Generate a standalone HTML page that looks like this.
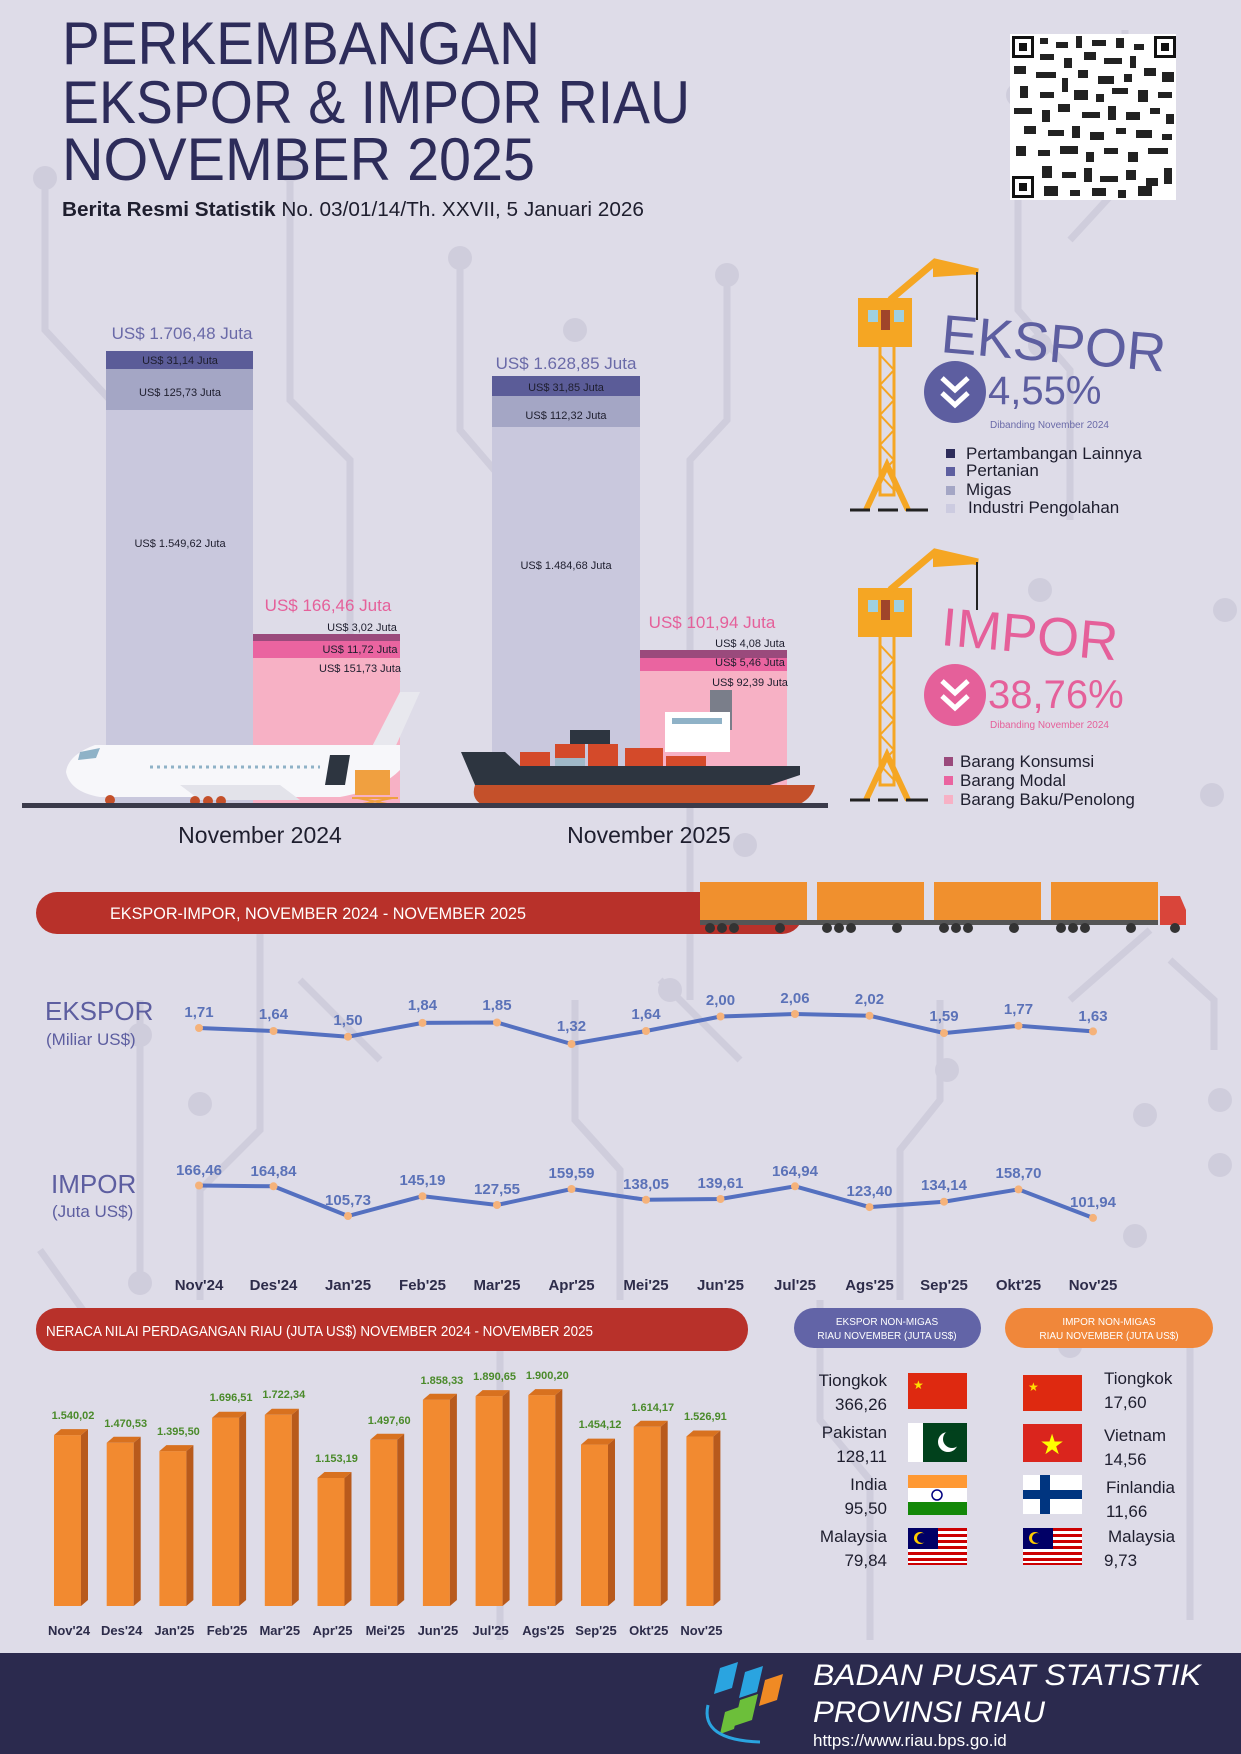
<!DOCTYPE html>
<html><head><meta charset="utf-8"><style>
html,body{margin:0;padding:0;background:#dedce8;}
svg{display:block;font-family:"Liberation Sans",sans-serif;}
</style></head><body>
<svg width="1241" height="1754" viewBox="0 0 1241 1754" xmlns="http://www.w3.org/2000/svg">
<rect width="1241" height="1754" fill="#dedce8"/>
<g stroke="#cfcddc" stroke-width="7" fill="none">
<path d="M45 170 V330 L110 400 V560"/><path d="M290 170 V400 L350 460 V680"/>
<path d="M460 250 V430 L520 500 V760"/><path d="M727 270 V420 L690 460 V1000"/>
<path d="M1018 95 V310 L1070 370 V520"/><path d="M1125 30 V180 L1070 240"/>
<path d="M260 900 V1130 L200 1190 V1300"/><path d="M140 1000 V1280"/>
<path d="M575 1000 V1120 L620 1170 V1300"/><path d="M940 1000 V1100 L900 1150 V1300"/>
<path d="M1070 1000 L1150 930"/><path d="M1214 1050 V1000 L1170 960"/>
<path d="M820 1300 V1420 L870 1480 V1640"/><path d="M500 1330 V1640"/><path d="M1190 1310 V1620"/>
<path d="M40 1250 L90 1320"/><path d="M300 980 L380 1060"/><path d="M660 980 L740 1060"/>
</g>
<g fill="#cfcddc">
<circle cx="45" cy="178" r="12"/><circle cx="290" cy="170" r="12"/><circle cx="460" cy="258" r="12"/>
<circle cx="727" cy="275" r="12"/><circle cx="1018" cy="95" r="12"/><circle cx="1040" cy="345" r="12"/>
<circle cx="575" cy="330" r="12"/><circle cx="1040" cy="590" r="12"/><circle cx="1225" cy="610" r="12"/>
<circle cx="1212" cy="795" r="12"/><circle cx="745" cy="845" r="12"/><circle cx="1220" cy="1100" r="12"/>
<circle cx="140" cy="1035" r="12"/><circle cx="200" cy="1104" r="12"/><circle cx="1220" cy="1165" r="12"/>
<circle cx="947" cy="1070" r="12"/><circle cx="140" cy="1283" r="12"/><circle cx="1135" cy="1236" r="12"/>
<circle cx="670" cy="990" r="12"/><circle cx="1145" cy="1115" r="12"/><circle cx="1070" cy="1346" r="12"/>
</g>
<g fill="#2d2c5a" font-size="60">
<text x="62" y="64" textLength="478" lengthAdjust="spacingAndGlyphs">PERKEMBANGAN</text>
<text x="62" y="123" textLength="628" lengthAdjust="spacingAndGlyphs">EKSPOR &amp; IMPOR RIAU</text>
<text x="62" y="180" textLength="473" lengthAdjust="spacingAndGlyphs">NOVEMBER 2025</text>
</g>
<text x="62" y="216" font-size="20" fill="#1e1e2e" textLength="582" lengthAdjust="spacingAndGlyphs"><tspan font-weight="bold">Berita Resmi Statistik</tspan> No. 03/01/14/Th. XXVII, 5 Januari 2026</text>
<g>
<rect x="1010" y="34" width="166" height="166" fill="#fff"/>
<g fill="#111">
<rect x="1012" y="36" width="22" height="22"/><rect x="1154" y="36" width="22" height="22"/><rect x="1012" y="176" width="22" height="22"/>
</g>
<g fill="#fff"><rect x="1015" y="39" width="16" height="16"/><rect x="1157" y="39" width="16" height="16"/><rect x="1015" y="179" width="16" height="16"/></g>
<g fill="#111"><rect x="1019" y="43" width="8" height="8"/><rect x="1161" y="43" width="8" height="8"/><rect x="1019" y="183" width="8" height="8"/></g>
<g fill="#222">
<rect x="1040" y="38" width="8" height="6"/><rect x="1056" y="42" width="12" height="6"/><rect x="1076" y="36" width="6" height="12"/><rect x="1092" y="40" width="14" height="6"/><rect x="1116" y="38" width="8" height="10"/><rect x="1134" y="44" width="10" height="6"/>
<rect x="1040" y="54" width="14" height="6"/><rect x="1064" y="58" width="8" height="10"/><rect x="1084" y="52" width="12" height="8"/><rect x="1104" y="58" width="18" height="6"/><rect x="1130" y="56" width="6" height="12"/>
<rect x="1014" y="66" width="12" height="8"/><rect x="1036" y="72" width="20" height="6"/><rect x="1062" y="78" width="6" height="14"/><rect x="1078" y="70" width="10" height="8"/><rect x="1098" y="76" width="16" height="8"/><rect x="1124" y="74" width="8" height="8"/><rect x="1144" y="68" width="12" height="8"/><rect x="1162" y="72" width="12" height="10"/>
<rect x="1020" y="86" width="8" height="12"/><rect x="1040" y="92" width="14" height="6"/><rect x="1074" y="90" width="14" height="10"/><rect x="1096" y="94" width="8" height="8"/><rect x="1112" y="88" width="16" height="6"/><rect x="1138" y="90" width="10" height="12"/><rect x="1158" y="92" width="14" height="6"/>
<rect x="1014" y="108" width="18" height="6"/><rect x="1042" y="110" width="8" height="12"/><rect x="1058" y="104" width="12" height="8"/><rect x="1082" y="112" width="18" height="6"/><rect x="1108" y="106" width="8" height="14"/><rect x="1126" y="112" width="14" height="8"/><rect x="1150" y="108" width="10" height="6"/><rect x="1166" y="114" width="8" height="10"/>
<rect x="1024" y="126" width="12" height="8"/><rect x="1048" y="130" width="16" height="6"/><rect x="1072" y="126" width="8" height="12"/><rect x="1090" y="132" width="14" height="8"/><rect x="1116" y="128" width="10" height="6"/><rect x="1136" y="130" width="16" height="8"/><rect x="1162" y="134" width="10" height="6"/>
<rect x="1016" y="146" width="10" height="10"/><rect x="1038" y="150" width="12" height="6"/><rect x="1060" y="146" width="18" height="8"/><rect x="1086" y="152" width="8" height="10"/><rect x="1104" y="148" width="14" height="6"/><rect x="1128" y="152" width="10" height="10"/><rect x="1148" y="148" width="20" height="6"/>
<rect x="1042" y="166" width="10" height="12"/><rect x="1062" y="172" width="14" height="6"/><rect x="1084" y="168" width="8" height="14"/><rect x="1100" y="176" width="18" height="6"/><rect x="1126" y="170" width="10" height="10"/><rect x="1146" y="178" width="12" height="8"/><rect x="1164" y="168" width="8" height="16"/>
<rect x="1044" y="186" width="14" height="10"/><rect x="1070" y="190" width="10" height="6"/><rect x="1092" y="188" width="14" height="8"/><rect x="1118" y="190" width="8" height="8"/><rect x="1138" y="186" width="14" height="10"/>
</g></g>
<rect x="106" y="351" width="147" height="455" fill="#c9c8dd"/>
<rect x="106" y="369" width="147" height="41" fill="#a4a6c5"/>
<rect x="106" y="351" width="147" height="18" fill="#5b5c98"/>
<rect x="253" y="634" width="147" height="172" fill="#f7b1c5"/>
<rect x="253" y="641" width="147" height="17" fill="#ea64a0"/>
<rect x="253" y="634" width="147" height="7" fill="#9a4a7c"/>
<rect x="492" y="376" width="148" height="430" fill="#c9c8dd"/>
<rect x="492" y="396" width="148" height="31" fill="#a4a6c5"/>
<rect x="492" y="376" width="148" height="20" fill="#5b5c98"/>
<rect x="640" y="650" width="147" height="156" fill="#f7b1c5"/>
<rect x="640" y="658" width="147" height="13" fill="#ea64a0"/>
<rect x="640" y="650" width="147" height="8" fill="#9a4a7c"/>
<g font-size="17" fill="#6a6aa8" text-anchor="middle">
<text x="182" y="339">US$ 1.706,48 Juta</text>
<text x="566" y="369">US$ 1.628,85 Juta</text>
</g>
<g font-size="17" fill="#e5609a" text-anchor="middle">
<text x="328" y="611">US$ 166,46 Juta</text>
<text x="712" y="628">US$ 101,94 Juta</text>
</g>
<g font-size="11" fill="#1e1e2e" text-anchor="middle">
<text x="180" y="364">US$ 31,14 Juta</text>
<text x="180" y="396">US$ 125,73 Juta</text>
<text x="180" y="547">US$ 1.549,62 Juta</text>
<text x="566" y="391">US$ 31,85 Juta</text>
<text x="566" y="419">US$ 112,32 Juta</text>
<text x="566" y="569">US$ 1.484,68 Juta</text>
<text x="362" y="631">US$ 3,02 Juta</text>
<text x="360" y="653">US$ 11,72 Juta</text>
<text x="360" y="672">US$ 151,73 Juta</text>
<text x="750" y="647">US$ 4,08 Juta</text>
<text x="750" y="666">US$ 5,46 Juta</text>
<text x="750" y="686">US$ 92,39 Juta</text>
</g>
<g>
<path d="M400 692 L420 692 L385 770 L360 770 Z" fill="#e8e8ee"/>
<path d="M95 745 Q68 755 66 772 Q70 792 100 797 L340 797 Q380 790 400 770 L400 745 Z" fill="#f7f7fa"/>
<path d="M80 752 L100 748 L96 758 L78 760 Z" fill="#8fb2c7"/>
<line x1="150" y1="767" x2="320" y2="767" stroke="#8fb2c7" stroke-width="3" stroke-dasharray="3 4"/>
<path d="M330 755 L350 755 L345 785 L325 785 Z" fill="#2d3540"/>
<path d="M180 785 L280 785 L300 800 L200 800 Z" fill="#e3e3ea"/>
<circle cx="110" cy="800" r="5" fill="#c4502a"/><circle cx="195" cy="801" r="5" fill="#c4502a"/><circle cx="208" cy="801" r="5" fill="#c4502a"/><circle cx="221" cy="801" r="5" fill="#c4502a"/>
<rect x="355" y="770" width="35" height="25" fill="#f0a040"/>
<path d="M352 798 L398 798 M358 798 L392 805 M392 798 L358 805" stroke="#f0a040" stroke-width="2"/>
</g>
<g>
<rect x="710" y="690" width="22" height="40" fill="#7a7e8a"/>
<rect x="665" y="712" width="65" height="40" fill="#fff"/>
<rect x="672" y="718" width="50" height="6" fill="#8fb2c7"/>
<rect x="570" y="730" width="40" height="14" fill="#2d3540"/>
<rect x="555" y="744" width="30" height="14" fill="#d44a2a"/><rect x="588" y="744" width="30" height="14" fill="#d44a2a"/>
<rect x="520" y="752" width="30" height="14" fill="#d44a2a"/><rect x="555" y="758" width="30" height="12" fill="#9fb8c8"/><rect x="588" y="758" width="30" height="12" fill="#d44a2a"/>
<rect x="625" y="748" width="38" height="14" fill="#d44a2a"/><rect x="625" y="762" width="38" height="12" fill="#d44a2a"/><rect x="666" y="756" width="40" height="14" fill="#d44a2a"/>
<path d="M461 752 L505 752 L520 766 L800 766 L800 775 L770 785 L475 785 Z" fill="#2d3540"/>
<path d="M475 785 L815 785 Q812 800 795 806 L485 806 Q470 800 475 785 Z" fill="#c4502a"/>
</g>
<rect x="22" y="803" width="806" height="5" fill="#3a3a4a"/>
<g font-size="23" fill="#1e1e2e" text-anchor="middle">
<text x="260" y="843">November 2024</text>
<text x="649" y="843">November 2025</text>
</g>
<g id="crane" fill="none" stroke="#f5a623" stroke-width="4">
<rect x="880" y="345" width="14" height="150" stroke-width="3"/>
<path d="M880 355 L894 370 L880 385 L894 400 L880 415 L894 430 L880 445 L894 460 L880 475 L894 490" stroke-width="2"/>
<path d="M866 510 L887 465 L908 510" stroke-width="6"/>
<path d="M860 300 L910 300 L910 345 L860 345 Z" fill="#f5a623"/>
<path d="M890 300 L935 262 L978 272" stroke-width="7"/>
<path d="M935 262 L978 272 L935 275 Z" fill="#f5a623"/>
<line x1="977" y1="272" x2="977" y2="320" stroke="#222" stroke-width="2"/>
<rect x="868" y="310" width="10" height="12" fill="#9fd0e0" stroke="none"/><rect x="881" y="310" width="9" height="20" fill="#a0452a" stroke="none"/><rect x="894" y="310" width="10" height="12" fill="#9fd0e0" stroke="none"/>
<path d="M850 510 H870 M878 510 H898 M906 510 H928" stroke="#222" stroke-width="3"/>
</g>
<use href="#crane" transform="translate(0,290)"/>
<text x="940" y="352" font-size="54" fill="#5d5ea0" transform="rotate(5 940 352)">EKSPOR</text>
<text x="940" y="645" font-size="54" fill="#e5609a" transform="rotate(5 940 645)">IMPOR</text>
<circle cx="955" cy="392" r="31" fill="#5d5ea0"/>
<path d="M942 378 L955 390 L968 378 M942 393 L955 405 L968 393" stroke="#fff" stroke-width="5" fill="none"/>
<circle cx="955" cy="695" r="31" fill="#e5609a"/>
<path d="M942 681 L955 693 L968 681 M942 696 L955 708 L968 696" stroke="#fff" stroke-width="5" fill="none"/>
<text x="988" y="404" font-size="40" fill="#5d5ea0">4,55%</text>
<text x="990" y="428" font-size="10" fill="#6a6aa8">Dibanding November 2024</text>
<text x="988" y="708" font-size="40" fill="#e5609a">38,76%</text>
<text x="990" y="728" font-size="10" fill="#e5609a">Dibanding November 2024</text>
<g font-size="17" fill="#1e1e2e">
<rect x="946" y="449" width="9" height="9" fill="#2d2c5a"/><text x="966" y="459">Pertambangan Lainnya</text>
<rect x="946" y="467" width="9" height="9" fill="#5d5ea0"/><text x="966" y="476">Pertanian</text>
<rect x="946" y="486" width="9" height="9" fill="#a4a6c5"/><text x="966" y="495">Migas</text>
<rect x="946" y="504" width="9" height="9" fill="#cccbe0"/><text x="968" y="513">Industri Pengolahan</text>
<rect x="944" y="757" width="9" height="9" fill="#9a4a7c"/><text x="960" y="767">Barang Konsumsi</text>
<rect x="944" y="776" width="9" height="9" fill="#ea64a0"/><text x="960" y="786">Barang Modal</text>
<rect x="944" y="795" width="9" height="9" fill="#f7b1c5"/><text x="960" y="805">Barang Baku/Penolong</text>
</g>
<rect x="36" y="892" width="767" height="42" rx="21" fill="#b8312a"/>
<text x="110" y="919" font-size="17" fill="#fff" textLength="416" lengthAdjust="spacingAndGlyphs">EKSPOR-IMPOR, NOVEMBER 2024 - NOVEMBER 2025</text>
<g>
<rect x="700" y="882" width="107" height="38" fill="#f0902e"/><rect x="817" y="882" width="107" height="38" fill="#f0902e"/><rect x="934" y="882" width="107" height="38" fill="#f0902e"/><rect x="1051" y="882" width="107" height="38" fill="#f0902e"/>
<rect x="700" y="920" width="458" height="5" fill="#555"/>
<path d="M1160 896 L1180 896 L1186 910 L1186 925 L1160 925 Z" fill="#d9453a"/>
<g fill="#333"><circle cx="710" cy="928" r="5"/><circle cx="722" cy="928" r="5"/><circle cx="734" cy="928" r="5"/><circle cx="780" cy="928" r="5"/>
<circle cx="827" cy="928" r="5"/><circle cx="839" cy="928" r="5"/><circle cx="851" cy="928" r="5"/><circle cx="897" cy="928" r="5"/>
<circle cx="944" cy="928" r="5"/><circle cx="956" cy="928" r="5"/><circle cx="968" cy="928" r="5"/><circle cx="1014" cy="928" r="5"/>
<circle cx="1061" cy="928" r="5"/><circle cx="1073" cy="928" r="5"/><circle cx="1085" cy="928" r="5"/><circle cx="1131" cy="928" r="5"/><circle cx="1175" cy="928" r="5"/></g>
</g>
<text x="45" y="1020" font-size="26" fill="#5d5ea0">EKSPOR</text>
<text x="46" y="1045" font-size="17" fill="#5d5ea0">(Miliar US$)</text>
<text x="51" y="1193" font-size="26" fill="#5d5ea0">IMPOR</text>
<text x="52" y="1217" font-size="17" fill="#5d5ea0">(Juta US$)</text>
<polyline fill="none" stroke="#5470c0" stroke-width="4" points="199,1028 273.5,1031 348,1036.7 422.5,1022.9 497,1022.5 571.5,1044 646,1031 720.5,1016.5 795,1014 869.5,1015.7 944,1033.1 1018.5,1025.8 1093,1031.4"/>
<g fill="#f5b27a"><circle cx="199" cy="1028" r="4"/><circle cx="273.5" cy="1031" r="4"/><circle cx="348" cy="1036.7" r="4"/><circle cx="422.5" cy="1022.9" r="4"/><circle cx="497" cy="1022.5" r="4"/><circle cx="571.5" cy="1044" r="4"/><circle cx="646" cy="1031" r="4"/><circle cx="720.5" cy="1016.5" r="4"/><circle cx="795" cy="1014" r="4"/><circle cx="869.5" cy="1015.7" r="4"/><circle cx="944" cy="1033.1" r="4"/><circle cx="1018.5" cy="1025.8" r="4"/><circle cx="1093" cy="1031.4" r="4"/></g>
<g font-size="15" font-weight="bold" fill="#5b72b8" text-anchor="middle">
<text x="199" y="1017">1,71</text><text x="273.5" y="1019">1,64</text><text x="348" y="1025">1,50</text><text x="422.5" y="1010">1,84</text><text x="497" y="1010">1,85</text><text x="571.5" y="1031">1,32</text><text x="646" y="1019">1,64</text><text x="720.5" y="1005">2,00</text><text x="795" y="1003">2,06</text><text x="869.5" y="1004">2,02</text><text x="944" y="1021">1,59</text><text x="1018.5" y="1014">1,77</text><text x="1093" y="1021">1,63</text>
</g>
<polyline fill="none" stroke="#5470c0" stroke-width="4" points="199,1185.5 273.5,1186.3 348,1216 422.5,1196.2 497,1205 571.5,1189 646,1199.8 720.5,1199 795,1186.3 869.5,1207.1 944,1201.7 1018.5,1189.4 1093,1217.9"/>
<g fill="#f5b27a"><circle cx="199" cy="1185.5" r="4"/><circle cx="273.5" cy="1186.3" r="4"/><circle cx="348" cy="1216" r="4"/><circle cx="422.5" cy="1196.2" r="4"/><circle cx="497" cy="1205" r="4"/><circle cx="571.5" cy="1189" r="4"/><circle cx="646" cy="1199.8" r="4"/><circle cx="720.5" cy="1199" r="4"/><circle cx="795" cy="1186.3" r="4"/><circle cx="869.5" cy="1207.1" r="4"/><circle cx="944" cy="1201.7" r="4"/><circle cx="1018.5" cy="1189.4" r="4"/><circle cx="1093" cy="1217.9" r="4"/></g>
<g font-size="15" font-weight="bold" fill="#5b72b8" text-anchor="middle">
<text x="199" y="1175">166,46</text><text x="273.5" y="1176">164,84</text><text x="348" y="1205">105,73</text><text x="422.5" y="1185">145,19</text><text x="497" y="1194">127,55</text><text x="571.5" y="1178">159,59</text><text x="646" y="1189">138,05</text><text x="720.5" y="1188">139,61</text><text x="795" y="1176">164,94</text><text x="869.5" y="1196">123,40</text><text x="944" y="1190">134,14</text><text x="1018.5" y="1178">158,70</text><text x="1093" y="1207">101,94</text>
</g>
<g font-size="15" font-weight="bold" fill="#2d2c4a" text-anchor="middle">
<text x="199" y="1290">Nov'24</text><text x="273.5" y="1290">Des'24</text><text x="348" y="1290">Jan'25</text><text x="422.5" y="1290">Feb'25</text><text x="497" y="1290">Mar'25</text><text x="571.5" y="1290">Apr'25</text><text x="646" y="1290">Mei'25</text><text x="720.5" y="1290">Jun'25</text><text x="795" y="1290">Jul'25</text><text x="869.5" y="1290">Ags'25</text><text x="944" y="1290">Sep'25</text><text x="1018.5" y="1290">Okt'25</text><text x="1093" y="1290">Nov'25</text>
</g>
<rect x="36" y="1308" width="712" height="43" rx="21" fill="#b8312a"/>
<text x="46" y="1336" font-size="15" fill="#fff" textLength="547" lengthAdjust="spacingAndGlyphs">NERACA NILAI PERDAGANGAN RIAU (JUTA US$) NOVEMBER 2024 - NOVEMBER 2025</text>
<g>
<g fill="#f28a30">
<rect x="54" y="1435.1" width="27" height="170.9"/><rect x="106.7" y="1442.8" width="27" height="163.2"/><rect x="159.4" y="1451.1" width="27" height="154.9"/><rect x="212.1" y="1417.7" width="27" height="188.3"/><rect x="264.8" y="1414.8" width="27" height="191.2"/><rect x="317.5" y="1478" width="27" height="128"/><rect x="370.2" y="1439.8" width="27" height="166.2"/><rect x="422.9" y="1399.7" width="27" height="206.3"/><rect x="475.6" y="1396.1" width="27" height="209.9"/><rect x="528.3" y="1395.1" width="27" height="210.9"/><rect x="581" y="1444.6" width="27" height="161.4"/><rect x="633.7" y="1426.8" width="27" height="179.2"/><rect x="686.4" y="1436.5" width="27" height="169.5"/>
</g>
<g fill="#b85a1c">
<path d="M81 1435.1 l7 -6 V1600 l-7 6Z"/><path d="M133.7 1442.8 l7 -6 V1600 l-7 6Z"/><path d="M186.4 1451.1 l7 -6 V1600 l-7 6Z"/><path d="M239.1 1417.7 l7 -6 V1600 l-7 6Z"/><path d="M291.8 1414.8 l7 -6 V1600 l-7 6Z"/><path d="M344.5 1478 l7 -6 V1600 l-7 6Z"/><path d="M397.2 1439.8 l7 -6 V1600 l-7 6Z"/><path d="M449.9 1399.7 l7 -6 V1600 l-7 6Z"/><path d="M502.6 1396.1 l7 -6 V1600 l-7 6Z"/><path d="M555.3 1395.1 l7 -6 V1600 l-7 6Z"/><path d="M608 1444.6 l7 -6 V1600 l-7 6Z"/><path d="M660.7 1426.8 l7 -6 V1600 l-7 6Z"/><path d="M713.4 1436.5 l7 -6 V1600 l-7 6Z"/>
</g>
<g fill="#d8711f">
<path d="M54 1435.1 l7 -6 h27 l-7 6Z"/><path d="M106.7 1442.8 l7 -6 h27 l-7 6Z"/><path d="M159.4 1451.1 l7 -6 h27 l-7 6Z"/><path d="M212.1 1417.7 l7 -6 h27 l-7 6Z"/><path d="M264.8 1414.8 l7 -6 h27 l-7 6Z"/><path d="M317.5 1478 l7 -6 h27 l-7 6Z"/><path d="M370.2 1439.8 l7 -6 h27 l-7 6Z"/><path d="M422.9 1399.7 l7 -6 h27 l-7 6Z"/><path d="M475.6 1396.1 l7 -6 h27 l-7 6Z"/><path d="M528.3 1395.1 l7 -6 h27 l-7 6Z"/><path d="M581 1444.6 l7 -6 h27 l-7 6Z"/><path d="M633.7 1426.8 l7 -6 h27 l-7 6Z"/><path d="M686.4 1436.5 l7 -6 h27 l-7 6Z"/>
</g>
</g>
<g font-size="11" font-weight="bold" fill="#4a8a2a" text-anchor="middle">
<text x="73" y="1419">1.540,02</text><text x="125.7" y="1427">1.470,53</text><text x="178.4" y="1435">1.395,50</text><text x="231.1" y="1401">1.696,51</text><text x="283.8" y="1398">1.722,34</text><text x="336.5" y="1462">1.153,19</text><text x="389.2" y="1424">1.497,60</text><text x="441.9" y="1384">1.858,33</text><text x="494.6" y="1380">1.890,65</text><text x="547.3" y="1379">1.900,20</text><text x="600" y="1428">1.454,12</text><text x="652.7" y="1411">1.614,17</text><text x="705.4" y="1420">1.526,91</text>
</g>
<g font-size="13" font-weight="bold" fill="#2d2c4a" text-anchor="middle">
<text x="69" y="1635">Nov'24</text><text x="121.7" y="1635">Des'24</text><text x="174.4" y="1635">Jan'25</text><text x="227.1" y="1635">Feb'25</text><text x="279.8" y="1635">Mar'25</text><text x="332.5" y="1635">Apr'25</text><text x="385.2" y="1635">Mei'25</text><text x="437.9" y="1635">Jun'25</text><text x="490.6" y="1635">Jul'25</text><text x="543.3" y="1635">Ags'25</text><text x="596" y="1635">Sep'25</text><text x="648.7" y="1635">Okt'25</text><text x="701.4" y="1635">Nov'25</text>
</g>
<rect x="794" y="1308" width="187" height="40" rx="20" fill="#6264a7"/>
<text x="887" y="1325" font-size="10" fill="#fff" text-anchor="middle">EKSPOR NON-MIGAS</text>
<text x="887" y="1339" font-size="10" fill="#fff" text-anchor="middle">RIAU NOVEMBER (JUTA US$)</text>
<rect x="1005" y="1308" width="208" height="40" rx="20" fill="#f0873a"/>
<text x="1109" y="1325" font-size="10" fill="#fff" text-anchor="middle">IMPOR NON-MIGAS</text>
<text x="1109" y="1339" font-size="10" fill="#fff" text-anchor="middle">RIAU NOVEMBER (JUTA US$)</text>
<rect x="908" y="1373" width="59" height="36" fill="#de2910"/><text x="913" y="1389" font-size="12" fill="#ffde00">★</text>
<rect x="908" y="1423" width="59" height="39" fill="#01411c"/><rect x="908" y="1423" width="15" height="39" fill="#fff"/><circle cx="948" cy="1442" r="10" fill="#fff"/><circle cx="952" cy="1439" r="9" fill="#01411c"/>
<rect x="908" y="1475" width="59" height="13" fill="#ff9933"/><rect x="908" y="1488" width="59" height="14" fill="#fff"/><rect x="908" y="1502" width="59" height="13" fill="#138808"/><circle cx="937" cy="1495" r="5" fill="none" stroke="#000080" stroke-width="1.5"/>
<g id="my"><rect x="908" y="1528" width="59" height="37" fill="#fff"/>
<g fill="#cc0001"><rect x="908" y="1528" width="59" height="3"/><rect x="908" y="1534" width="59" height="3"/><rect x="908" y="1540" width="59" height="3"/><rect x="908" y="1546" width="59" height="3"/><rect x="908" y="1552" width="59" height="3"/><rect x="908" y="1558" width="59" height="3"/><rect x="908" y="1563" width="59" height="2"/></g>
<rect x="908" y="1528" width="30" height="21" fill="#010066"/><circle cx="920" cy="1538" r="6" fill="#fc0"/><circle cx="922" cy="1538" r="5" fill="#010066"/></g>
<rect x="1023" y="1375" width="59" height="36" fill="#de2910"/><text x="1028" y="1391" font-size="12" fill="#ffde00">★</text>
<rect x="1023" y="1424" width="59" height="38" fill="#da251d"/><text x="1052" y="1454" font-size="28" fill="#ffff00" text-anchor="middle">★</text>
<rect x="1023" y="1475" width="59" height="39" fill="#fff"/><rect x="1040" y="1475" width="10" height="39" fill="#003580"/><rect x="1023" y="1490" width="59" height="9" fill="#003580"/>
<use href="#my" transform="translate(115,0)"/>
<g font-size="17" fill="#1e1e2e" text-anchor="end">
<text x="887" y="1386">Tiongkok</text><text x="887" y="1410">366,26</text>
<text x="887" y="1438">Pakistan</text><text x="887" y="1462">128,11</text>
<text x="887" y="1490">India</text><text x="887" y="1514">95,50</text>
<text x="887" y="1542">Malaysia</text><text x="887" y="1566">79,84</text>
</g>
<g font-size="17" fill="#1e1e2e">
<text x="1104" y="1384">Tiongkok</text><text x="1104" y="1408">17,60</text>
<text x="1104" y="1441">Vietnam</text><text x="1104" y="1465">14,56</text>
<text x="1106" y="1493">Finlandia</text><text x="1106" y="1517">11,66</text>
<text x="1108" y="1542">Malaysia</text><text x="1104" y="1566">9,73</text>
</g>
<rect x="0" y="1653" width="1241" height="101" fill="#2b2a4e"/>
<g>
<path d="M720 1668 l18 -6 l-6 26 l-18 6Z" fill="#2aa4e0"/>
<path d="M745 1672 l18 -6 l-6 26 l-18 6Z" fill="#2aa4e0"/>
<path d="M765 1680 l18 -6 l-6 26 l-18 6Z" fill="#f08a24"/>
<path d="M740 1700 l18 -6 l-6 26 l-18 6Z" fill="#6cbf3a"/>
<path d="M725 1712 l14 -5 l-5 22 l-14 5Z" fill="#6cbf3a"/>
<path d="M708 1705 Q700 1740 760 1742" stroke="#2aa4e0" stroke-width="3" fill="none"/>
</g>
<text x="813" y="1685" font-size="30" font-style="italic" fill="#fff" textLength="388" lengthAdjust="spacingAndGlyphs">BADAN PUSAT STATISTIK</text>
<text x="813" y="1722" font-size="30" font-style="italic" fill="#fff" textLength="232" lengthAdjust="spacingAndGlyphs">PROVINSI RIAU</text>
<text x="813" y="1746" font-size="17" fill="#fff">https://www.riau.bps.go.id</text>
</svg>
</body></html>
